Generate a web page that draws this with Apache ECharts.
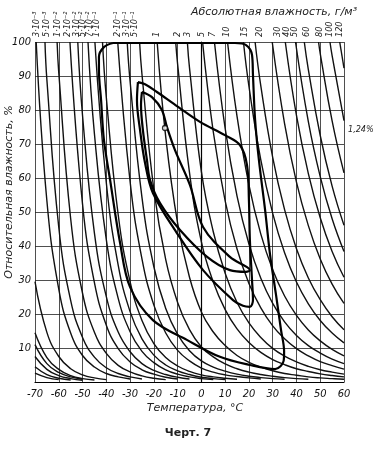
<!DOCTYPE html>
<html><head><meta charset="utf-8">
<script src="https://cdn.jsdelivr.net/npm/echarts@6/dist/echarts.min.js"></script>
<style>html,body{margin:0;padding:0;background:#fff}#c{width:374px;height:455px}</style>
</head><body><div id="c"></div>
<script>
// Absolute humidity curves (g/m3): relative humidity (%) read at temperatures (°C)
const curveNames = ['8·10⁻⁴','4·10⁻⁴','3·10⁻⁴','2·10⁻⁴','1·10⁻⁴','7·10⁻⁵','3·10⁻³','5·10⁻³','1·10⁻²','2·10⁻²','3·10⁻²','5·10⁻²','7·10⁻²','1·10⁻¹','2·10⁻¹','3·10⁻¹','5·10⁻¹','1','2','3','5','7','10','15','20','30','40','50','60','80','100','120'];
const curvePoints = [
 [[-70,29.5],[-65,14.6],[-60,7.5],[-55,3.9],[-50,2.1],[-45,1.2],[-40,0.7]],
 [[-70,14.5],[-65,7.2],[-60,3.7],[-55,1.9],[-50,1.0],[-45,0.6]],
 [[-70,11],[-65,5.4],[-60,2.8],[-55,1.5],[-50,0.8]],
 [[-70,7.5],[-65,3.7],[-60,1.9],[-55,1.0],[-50,0.5]],
 [[-70,4.5],[-65,2.2],[-60,1.1],[-55,0.6]],
 [[-70,2.6],[-65,1.3],[-60,0.7]],
 [[-69.5,100],[-65,53.3],[-60,27.3],[-55,14.4],[-50,7.8],[-45,4.4],[-40,2.5],[-35,1.5],[-30,0.9]],
 [[-65.8,100],[-65,88.9],[-60,45.5],[-55,24],[-50,13.1],[-45,7.3],[-40,4.2],[-35,2.5],[-30,1.5],[-25,0.9]],
 [[-60.7,100],[-60,91],[-55,48.1],[-50,26.1],[-45,14.6],[-40,8.4],[-35,4.9],[-30,3],[-25,1.8],[-20,1.1],[-15,0.7]],
 [[-55.3,100],[-50,52.3],[-45,29.2],[-40,16.7],[-35,9.8],[-30,5.9],[-25,3.6],[-20,2.3],[-15,1.4],[-10,0.9]],
 [[-52,100],[-50,78.4],[-45,43.8],[-40,25.1],[-35,14.7],[-30,8.9],[-25,5.4],[-20,3.4],[-15,2.2],[-10,1.4],[-5,0.9]],
 [[-47.7,100],[-45,73],[-40,41.9],[-35,24.6],[-30,14.8],[-25,9],[-20,5.7],[-15,3.6],[-10,2.3],[-5,1.5],[0,1],[5,0.7]],
 [[-44.8,100],[-40,58.6],[-35,34.4],[-30,20.7],[-25,12.7],[-20,7.9],[-15,5],[-10,3.3],[-5,2.2],[0,1.4],[5,1],[10,0.75]],
 [[-41.6,100],[-40,83.7],[-35,49.2],[-30,29.5],[-25,18.1],[-20,11.3],[-15,7.2],[-10,4.7],[-5,3.1],[0,2.1],[5,1.5],[10,1.1],[15,0.8]],
 [[-35.2,100],[-30,59],[-25,36.2],[-20,22.6],[-15,14.4],[-10,9.3],[-5,6.2],[0,4.1],[5,2.9],[10,2.1],[15,1.6],[20,1.2],[25,0.9]],
 [[-31.2,100],[-30,88.5],[-25,54.3],[-20,33.9],[-15,21.6],[-10,14],[-5,9.2],[0,6.2],[5,4.4],[10,3.2],[15,2.3],[20,1.7],[25,1.3],[30,1],[35,0.8]],
 [[-26,100],[-25,90.5],[-20,56.6],[-15,36],[-10,23.4],[-5,15.4],[0,10.3],[5,7.4],[10,5.3],[15,3.9],[20,2.9],[25,2.2],[30,1.7],[35,1.3],[40,1],[45,0.8]],
 [[-18.6,100],[-15,72.1],[-10,46.7],[-5,30.8],[0,20.6],[5,14.7],[10,10.7],[15,7.8],[20,5.8],[25,4.4],[30,3.3],[35,2.5],[40,2],[45,1.5],[50,1.2],[55,1],[60,0.8]],
 [[-10.8,100],[-10,93.5],[-5,61.6],[0,41.2],[5,29.4],[10,21.3],[15,15.6],[20,11.6],[25,8.7],[30,6.6],[35,5.1],[40,3.9],[45,3.1],[50,2.4],[55,1.9],[60,1.5]],
 [[-5.9,100],[-5,92.4],[0,61.9],[5,44.2],[10,32],[15,23.4],[20,17.4],[25,13.1],[30,9.9],[35,7.6],[40,5.9],[45,4.6],[50,3.6],[55,2.9],[60,2.3]],
 [[0.5,100],[5,73.6],[10,53.3],[15,39.1],[20,29],[25,21.8],[30,16.5],[35,12.7],[40,9.8],[45,7.7],[50,6],[55,4.8],[60,3.8]],
 [[5.5,100],[10,74.6],[15,54.7],[20,40.6],[25,30.5],[30,23.1],[35,17.7],[40,13.7],[45,10.7],[50,8.5],[55,6.7],[60,5.4]],
 [[11,100],[15,78.1],[20,58],[25,43.5],[30,33],[35,25.3],[40,19.6],[45,15.3],[50,12.1],[55,9.6],[60,7.7]],
 [[17.7,100],[20,87],[25,65.3],[30,49.6],[35,38],[40,29.4],[45,23],[50,18.1],[55,14.4],[60,11.5]],
 [[22.6,100],[25,87.1],[30,66.1],[35,50.7],[40,39.2],[45,30.6],[50,24.2],[55,19.2],[60,15.4]],
 [[29.8,100],[35,76],[40,58.8],[45,46],[50,36.2],[55,28.8],[60,23.1]],
 [[35.3,100],[40,78.4],[45,61.3],[50,48.3],[55,38.4],[60,30.8]],
 [[39.6,100],[45,76.6],[50,60.4],[55,48],[60,38.4]],
 [[43.3,100],[45,91.9],[50,72.5],[55,57.6],[60,46.1]],
 [[49.3,100],[50,96.6],[55,76.8],[60,61.5]],
 [[54.1,100],[55,96],[60,76.9]],
 [[58.2,100],[60,92.3]]
];
// labels written above the frame and the temperature at which each stands
const topLabels = ['3·10⁻³','5·10⁻³','1·10⁻²','2·10⁻²','3·10⁻²','5·10⁻²','7·10⁻²','1·10⁻¹','2·10⁻¹','3·10⁻¹','5·10⁻¹','1','2','3','5','7','10','15','20','30','40','50','60','80','100','120'];
const topLabelT = [-69.2,-65,-60.3,-56.1,-52.3,-49.8,-46.9,-43.9,-35.1,-31.3,-27.9,-18.7,-9.8,-5.6,0.3,4.9,10.8,18.4,24.7,31.9,36,39.4,44.4,49.9,54.1,58.3];
// closed regions (temperature °C, relative humidity %)
const outerContour = [[-37.2,99.7],[-41,98.5],[-43.1,95.6],[-43.1,91.8],[-42.2,82.9],[-41,71.2],[-38.4,59.4],[-34.2,40.9],[-30,27.9],[-20.4,18.2],[-6.1,12.4],[7.8,7.4],[20.4,5],[31,3.8],[34.6,6.2],[34.8,9],[33.5,15.3],[31.4,25.6],[28.9,37.4],[26.8,50.6],[24.2,65.3],[22.6,77.1],[21.7,90.3],[21.3,96.2],[18.8,99.1],[14.1,99.7],[-0.6,99.7],[-37.2,99.7]];
const middleContour = [[-26.7,88.2],[-23.7,87.6],[-18.7,85.3],[-9.8,80.9],[-0.6,76.5],[9.9,72.6],[16.2,69.7],[19.2,63.8],[20,53.5],[20.4,41.8],[21.3,30],[21.7,24.1],[20.4,22.1],[17.5,22.4],[13.3,24.1],[0.7,32.9],[-10.3,43.8],[-20.4,55.6],[-23.7,64.4],[-25.8,74.1],[-27.1,82.9],[-26.7,88.2]];
const innerContour = [[-25,85.3],[-20.8,83.8],[-16.6,80],[-14.5,75],[-11.1,68.2],[-4.8,57.9],[0.7,45.6],[12,36.8],[19.2,33.8],[20.4,32.9],[18.8,32.4],[12,32.9],[2.4,36.8],[-9,44.7],[-17.4,52.6],[-21.6,59.4],[-22.9,65.3],[-24.6,74.1],[-25.4,81.5],[-25,85.3]];
const markerPoint = [[-15.3,74.7]];

const FONT = "'DejaVu Sans Condensed','DejaVu Sans',sans-serif";
const WFONT = "'DejaVu Sans',sans-serif";
const chart = echarts.init(document.getElementById('c'), null, {renderer:'canvas'});
const series = [];
curvePoints.forEach((pts,i)=>{
  series.push({type:'line', name:curveNames[i], data:pts, smooth:0.45, symbol:'none',
    lineStyle:{color:'#111', width:1.4}, silent:true, z:3});
});
[outerContour, middleContour, innerContour].forEach(c=>{
  series.push({type:'line', data:c, smooth:0.35, symbol:'none', lineStyle:{color:'#000', width:2.2}, z:4});
});
series.push({type:'scatter', data:markerPoint, symbol:'circle', symbolSize:5,
  itemStyle:{color:'#fff', borderColor:'#000', borderWidth:1.3}, z:5});

chart.setOption({
  animation:false,
  backgroundColor:'#fff',
  grid:{left:35, right:30, top:42, bottom:73, containLabel:false, outerBoundsMode:'none'},
  title:{text:'Абсолютная влажность, г/м³', left:186, top:2,
    textStyle:{fontFamily:WFONT, fontStyle:'italic', fontWeight:'normal', fontSize:11, color:'#222'}},
  xAxis:{type:'value', min:-70, max:60, interval:10,
    axisLine:{show:true, onZero:false, lineStyle:{color:'#000', width:1.2}},
    axisTick:{show:false},
    axisLabel:{margin:7, fontFamily:FONT, fontStyle:'italic', fontSize:11, color:'#111'},
    splitLine:{show:true, lineStyle:{color:'#222', width:0.8}}},
  yAxis:{type:'value', min:0, max:100, interval:10,
    axisLine:{show:true, lineStyle:{color:'#000', width:1.2}},
    axisTick:{show:false},
    axisLabel:{margin:4, fontFamily:FONT, fontStyle:'italic', fontSize:11, color:'#111',
      formatter:v=> v===0 ? '' : String(v)},
    splitLine:{show:true, lineStyle:{color:'#222', width:0.8}}},
  series:series
});

const g = [];
topLabels.forEach((t,i)=>{
  const p = chart.convertToPixel({gridIndex:0}, [topLabelT[i], 100]);
  g.push({type:'text', x:p[0], y:37, rotation:Math.PI/2,
    style:{text:t, fontFamily:FONT, fontStyle:'italic', fontSize:9, fill:'#222', align:'left', verticalAlign:'middle'}});
});
g.push({type:'text', x:9, y:192, rotation:Math.PI/2, style:{text:'Относительная влажность, %', fontFamily:WFONT, fontStyle:'italic', fontSize:11, fill:'#222', align:'center', verticalAlign:'middle'}});
g.push({type:'text', x:195, y:408, style:{text:'Температура, °C', fontFamily:WFONT, fontStyle:'italic', fontSize:11, fill:'#222', align:'center', verticalAlign:'middle'}});
g.push({type:'text', x:348, y:130, style:{text:'1,24%', fontFamily:FONT, fontStyle:'italic', fontSize:9, fill:'#222', align:'left', verticalAlign:'middle'}});
g.push({type:'text', x:188, y:433, style:{text:'Черт. 7', fontFamily:WFONT, fontSize:11, fontWeight:'bold', fill:'#222', align:'center', verticalAlign:'middle'}});
chart.setOption({graphic:g});
</script></body></html>
